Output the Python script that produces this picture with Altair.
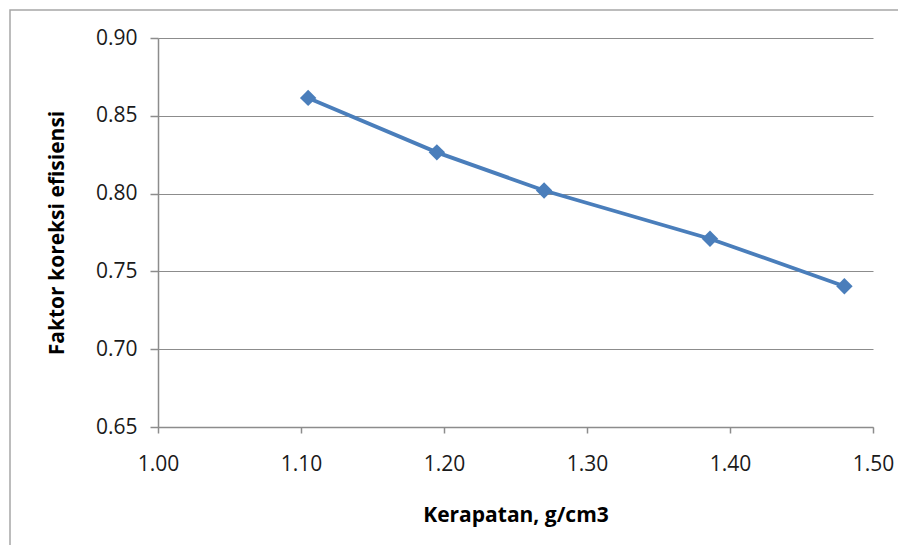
import altair as alt
import pandas as pd

kerapatan = [1.105, 1.195, 1.270, 1.386, 1.480]
faktor = [0.8615, 0.8265, 0.8020, 0.7710, 0.7405]

x_ticks = [1.00, 1.10, 1.20, 1.30, 1.40, 1.50]
y_ticks = [0.65, 0.70, 0.75, 0.80, 0.85, 0.90]

df = pd.DataFrame({"x": kerapatan, "y": faktor})

FONT = "Open Sans"
BLUE = "#4a7ebb"

xs = alt.Scale(domain=[1.0, 1.5], nice=False, zero=False)
ys = alt.Scale(domain=[0.65, 0.90], nice=False, zero=False)

xenc = alt.X("x:Q", scale=xs, title="Kerapatan, g/cm3",
             axis=alt.Axis(values=x_ticks, format=".2f", grid=False, labelFlush=False,
                           tickSize=6, labelPadding=20, titlePadding=30))
yenc = alt.Y("y:Q", scale=ys, title="Faktor koreksi efisiensi",
             axis=alt.Axis(values=y_ticks, format=".2f", grid=True, labelFlush=False,
                           tickSize=8, labelPadding=13, titlePadding=28))

border = alt.Chart(pd.DataFrame({"a": [0]})).mark_rect(
    fill=None, stroke="#a6a6a6", strokeWidth=1.5, clip=False
).encode(x=alt.value(-148), x2=alt.value(900), y=alt.value(-28), y2=alt.value(600))

line = alt.Chart(df).mark_line(color=BLUE, strokeWidth=3.8).encode(x=xenc, y=yenc)
pts = alt.Chart(df).mark_point(shape="diamond", filled=True, color=BLUE,
                               size=270, opacity=1).encode(x="x:Q", y="y:Q")

chart = alt.layer(border, line, pts).properties(
    width=715, height=389,
    background="white",
    autosize=alt.AutoSizeParams(type="none"),
    padding={"left": 150, "top": 30, "right": 25, "bottom": 118},
).configure_view(stroke=None).configure_axis(
    domainColor="#8c8c8c", tickColor="#8c8c8c", gridColor="#8c8c8c",
    domainWidth=1.5, tickWidth=1.5, gridWidth=1,
    labelFont=FONT, labelFontSize=21, labelColor="#1a1a1a",
    titleFont=FONT, titleFontSize=21, titleFontWeight="bold", titleColor="#000000",
)

chart.save("out.html", embed_options={"renderer": "svg", "actions": False})
